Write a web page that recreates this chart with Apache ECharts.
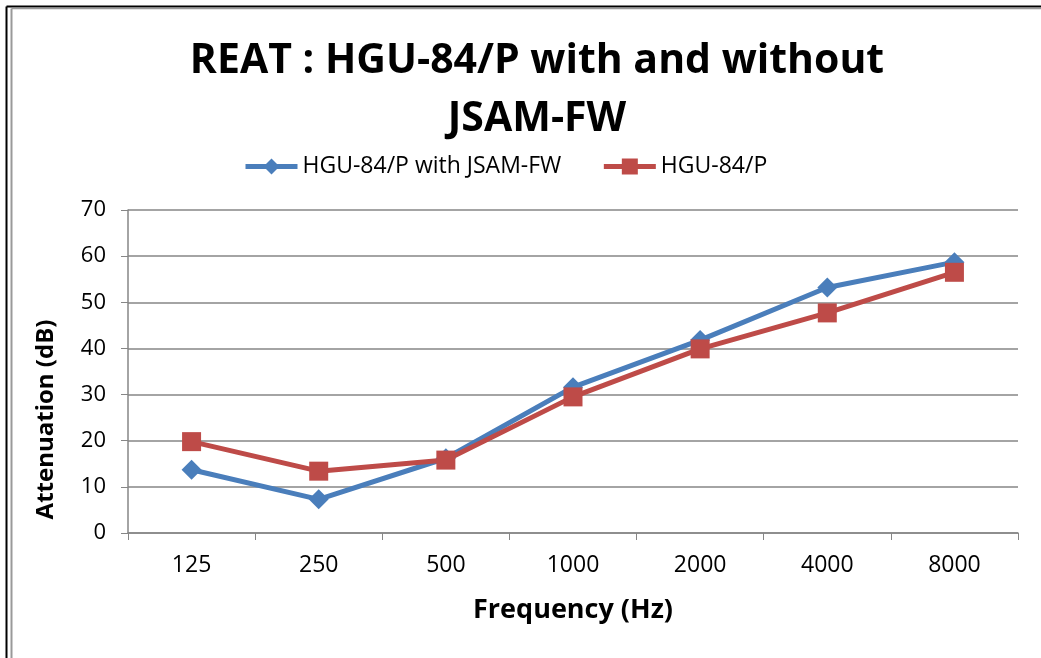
<!DOCTYPE html>
<html>
<head>
<meta charset="utf-8">
<script src="https://cdn.jsdelivr.net/npm/echarts@6/dist/echarts.min.js"></script>
<style>
  html, body { margin: 0; padding: 0; background: #fff; }
  #chart { width: 1041px; height: 658px; }
</style>
</head>
<body>
<div id="chart"></div>
<script>
// 数据
const frequencies = ['125', '250', '500', '1000', '2000', '4000', '8000']
const withJsam = [13.7, 7.3, 16.2, 31.6, 41.8, 53.2, 58.7]
const withoutJsam = [19.8, 13.4, 15.8, 29.5, 39.9, 47.7, 56.5]
const seriesNames = ['HGU-84/P with JSAM-FW', 'HGU-84/P']

const fontFamily = '"Open Sans", Lato, sans-serif'
const myChart = echarts.init(document.getElementById('chart'))

const option = {
  backgroundColor: '#fff',
  animation: false,
  title: {
    text: 'REAT : HGU-84/P with and without\nJSAM-FW',
    left: 532,
    textAlign: 'center',
    top: 27,
    textStyle: {
      fontFamily: fontFamily,
      fontSize: 41,
      fontWeight: 'bold',
      color: '#000',
      lineHeight: 58
    }
  },
  legend: {
    top: 150,
    left: 238,
    itemWidth: 52,
    itemHeight: 20,
    itemGap: 40,
    lineStyle: { width: 5 },
    textStyle: { fontFamily: fontFamily, fontSize: 23, color: '#000', padding: [0, 0, 0, 0] },
    data: seriesNames
  },
  grid: {
    left: 128,
    right: 23,
    top: 210,
    bottom: 125
  },
  xAxis: {
    type: 'category',
    data: frequencies,
    name: 'Frequency (Hz)',
    nameLocation: 'middle',
    nameGap: 64,
    nameTextStyle: { fontFamily: fontFamily, fontSize: 27, fontWeight: 'bold', color: '#000' },
    axisLine: { lineStyle: { color: '#868686', width: 1.5 } },
    axisTick: { show: true, length: 7, lineStyle: { color: '#868686' } },
    axisLabel: { fontFamily: fontFamily, fontSize: 23, color: '#000', margin: 21 }
  },
  yAxis: {
    type: 'value',
    min: 0,
    max: 70,
    interval: 10,
    name: 'Attenuation (dB)',
    nameLocation: 'middle',
    nameGap: 70,
    nameTextStyle: { fontFamily: fontFamily, fontSize: 24, fontWeight: 'bold', color: '#000', padding: [0, 96, 0, 0] },
    axisLine: { show: true, lineStyle: { color: '#868686', width: 1.5 } },
    axisTick: { show: true, length: 7, lineStyle: { color: '#868686' } },
    axisLabel: { fontFamily: fontFamily, fontSize: 22, color: '#000', margin: 22 },
    splitLine: { lineStyle: { color: '#868686', width: 1.5 } }
  },
  series: [
    {
      name: seriesNames[0],
      type: 'line',
      data: withJsam,
      symbol: 'diamond',
      symbolSize: 20,
      lineStyle: { color: '#4a7ebb', width: 5 },
      itemStyle: { color: '#4a7ebb' }
    },
    {
      name: seriesNames[1],
      type: 'line',
      data: withoutJsam,
      symbol: 'rect',
      symbolSize: 19,
      lineStyle: { color: '#be4b48', width: 5 },
      itemStyle: { color: '#be4b48' }
    }
  ],
  graphic: [
    // 外框
    { type: 'line', shape: { x1: 6.5, y1: 6.5, x2: 1041, y2: 6.5 }, style: { stroke: '#000', lineWidth: 2 } },
    { type: 'line', shape: { x1: 6.5, y1: 6.5, x2: 6.5, y2: 658 }, style: { stroke: '#000', lineWidth: 2 } },
    { type: 'line', shape: { x1: 11.5, y1: 8.5, x2: 1041, y2: 8.5 }, style: { stroke: '#999', lineWidth: 1.5 } },
    { type: 'line', shape: { x1: 11.5, y1: 8.5, x2: 11.5, y2: 658 }, style: { stroke: '#999', lineWidth: 2 } }
  ]
}

myChart.setOption(option)
window.onresize = function () {
  myChart.resize()
}
</script>
</body>
</html>
